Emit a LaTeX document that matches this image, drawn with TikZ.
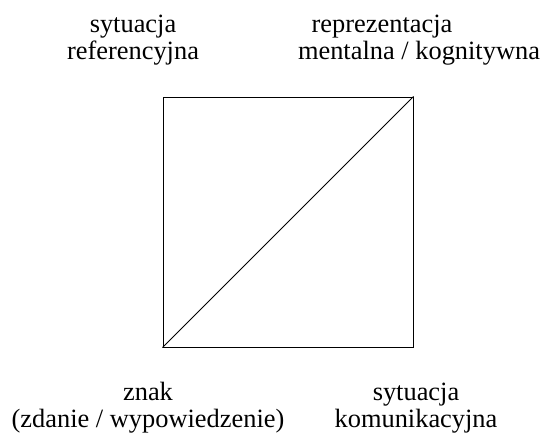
\documentclass[tikz,border=0pt]{standalone}
\usepackage{fontspec}
\setmainfont{Liberation Serif}
\usetikzlibrary{positioning}

\begin{document}
\begin{tikzpicture}[x=1pt, y=-1pt,
  lbl/.style={
    font=\fontsize{26.4}{27}\selectfont,
    align=center, inner sep=0pt, anchor=base
  },
  kwad/.style={
    draw, line width=1pt, minimum size=250pt, inner sep=0pt
  },
  diag/.style={line width=1pt}
]
\useasboundingbox (0,0) rectangle (545,434);

%% ── Kwadrat z przekątną ──────────────────────────────────────────────────
\node[kwad] (kw) at (288,222) {};
\draw[diag] (kw.south west) -- (kw.north east);

%% ── Podpisy narożników (baza = ostatnia linia) ───────────────────────────
\node[lbl] (ref)  at (133,59)  {sytuacja\\referencyjna};
\node[lbl] (ment) at (419,59)  {reprezentacja\hspace*{74pt}\\mentalna / kognitywna};
\node[lbl] (znak) at (148,427) {znak\\(zdanie / wypowiedzenie)};
\node[lbl] (kom)  at (416,427) {sytuacja\\komunikacyjna};

\end{tikzpicture}
\end{document}
